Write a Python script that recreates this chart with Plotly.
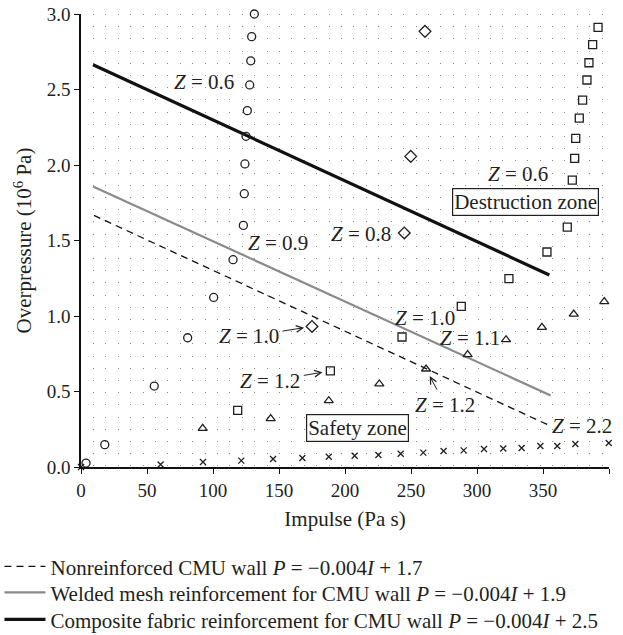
import plotly.graph_objects as go

# ---------------- data ----------------
circle_I = [3.8, 18.0, 55.5, 80.8, 100.5, 115.2, 123.0, 123.7, 124.2, 125.0, 126.0, 127.8, 128.6, 129.3, 131.3]
circle_P = [0.026, 0.148, 0.536, 0.856, 1.123, 1.373, 1.60, 1.81, 2.007, 2.19, 2.36, 2.53, 2.69, 2.85, 3.0]

diamond_I = [175.0, 244.9, 249.8, 260.6]
diamond_P = [0.931, 1.55, 2.057, 2.885]

square_I = [118.7, 188.9, 243.2, 288.1, 324.2, 353.0, 368.4, 372.2, 374.0, 374.8, 377.5, 380.0, 383.3, 384.8, 387.6, 391.7]
square_P = [0.375, 0.636, 0.861, 1.064, 1.247, 1.424, 1.589, 1.90, 2.044, 2.176, 2.311, 2.43, 2.563, 2.677, 2.797, 2.911]

tri_I = [92.2, 143.7, 187.7, 226.0, 261.4, 292.9, 322.0, 349.2, 373.3, 396.4]
tri_P = [0.256, 0.32, 0.439, 0.55, 0.649, 0.744, 0.843, 0.925, 1.013, 1.095]

x_I = [0.0, 60.3, 92.4, 121.4, 145.5, 167.7, 187.7, 207.3, 225.3, 242.2, 259.3, 274.7, 289.9, 305.3, 319.9, 333.8, 348.0, 360.8, 374.5, 399.8]
x_P = [0.0, 0.017, 0.033, 0.042, 0.053, 0.060, 0.068, 0.075, 0.079, 0.088, 0.095, 0.106, 0.110, 0.119, 0.123, 0.126, 0.139, 0.139, 0.152, 0.159]

line_nonreinf_I = [9.8, 354.8]
line_nonreinf_P = [1.666, 0.275]
line_mesh_I = [9.1, 355.8]
line_mesh_P = [1.858, 0.474]
line_comp_I = [9.1, 354.8]
line_comp_P = [2.664, 1.272]

legend_names = [
    "Nonreinforced CMU wall <i>P</i> = −0.004<i>I</i> + 1.7",
    "Welded mesh reinforcement for CMU wall <i>P</i> = −0.004<i>I</i> + 1.9",
    "Composite fabric reinforcement for CMU wall <i>P</i> = −0.004<i>I</i> + 2.5",
]

x_ticks = [0, 50, 100, 150, 200, 250, 300, 350, 400]
y_ticks = [0.0, 0.5, 1.0, 1.5, 2.0, 2.5, 3.0]

# ---------------- figure ----------------
FONT = "Liberation Serif, Times New Roman, serif"
TXT = "#231f20"
MK = "#231f20"
TS = 21  # text size

fig = go.Figure()

fig.add_trace(go.Scatter(x=line_nonreinf_I, y=line_nonreinf_P, mode="lines",
                         line=dict(color="#111", width=1.3, dash="7px,5px"),
                         name=legend_names[0], legend="legend"))
fig.add_trace(go.Scatter(x=line_mesh_I, y=line_mesh_P, mode="lines",
                         line=dict(color="#8a8a8a", width=2.2),
                         name=legend_names[1], legend="legend2"))
fig.add_trace(go.Scatter(x=line_comp_I, y=line_comp_P, mode="lines",
                         line=dict(color="#111", width=3.2),
                         name=legend_names[2], legend="legend3"))

def mk(xs, ys, sym, size):
    fig.add_trace(go.Scatter(x=xs, y=ys, mode="markers", showlegend=False,
                             cliponaxis=False,
                             marker=dict(symbol=sym, size=size, color=MK,
                                         line=dict(color=MK, width=1.3))))

mk(circle_I, circle_P, "circle-open", 8)
mk(diamond_I, diamond_P, "diamond-open", 9)
mk(square_I, square_P, "square-open", 8)
mk(tri_I, tri_P, "triangle-up-open", 8)
mk(x_I, x_P, "x-thin-open", 6)

afont = dict(family=FONT, size=TS, color=TXT)
plain = [
    ("<i>Z</i> = 0.6", 92.8, 2.551),
    ("<i>Z</i> = 0.6", 331.1, 1.942),
    ("<i>Z</i> = 0.9", 149.5, 1.483),
    ("<i>Z</i> = 0.8", 212.1, 1.543),
    ("<i>Z</i> = 1.0", 260.6, 0.987),
    ("<i>Z</i> = 1.1", 294.5, 0.854),
    ("<i>Z</i> = 2.2", 379.5, 0.269),
]
for t, xx, yy in plain:
    fig.add_annotation(x=xx, y=yy, text=t, showarrow=False, font=afont)

for t, xx, yy in [("Destruction zone", 336.7, 1.757), ("Safety zone", 209.8, 0.258)]:
    fig.add_annotation(x=xx, y=yy, text=t, showarrow=False, font=afont,
                       bgcolor="white", bordercolor="#231f20", borderwidth=1.2, borderpad=1)

arrows = [
    ("<i>Z</i> = 1.0", 175.0, 0.931, -63, 10),
    ("<i>Z</i> = 1.2", 188.9, 0.636, -60, 10),
    ("<i>Z</i> = 1.2", 261.4, 0.649, 19, 36),
]
for t, xx, yy, ax, ay in arrows:
    fig.add_annotation(x=xx, y=yy, text=t, showarrow=True, ax=ax, ay=ay,
                       font=afont, arrowhead=5, arrowsize=1.3, arrowwidth=1,
                       arrowcolor="#231f20", standoff=8, startstandoff=2)

axis_common = dict(
    showline=True, linecolor="#111", linewidth=1.5,
    ticks="outside", ticklen=5, tickwidth=1.2, tickcolor="#111",
    tickfont=dict(family=FONT, size=19, color=TXT),
    zeroline=False, automargin=False,
)

fig.update_xaxes(range=[0, 400], tickvals=x_ticks, showgrid=False,
                 title=dict(text="Impulse (Pa s)", font=dict(family=FONT, size=TS, color=TXT), standoff=12),
                 minor=dict(dtick=9.4, tick0=0, showgrid=True, gridcolor="#8c8c8c", gridwidth=1,
                            griddash="1px,11.2px", ticks=""),
                 **axis_common)
fig.update_yaxes(range=[0, 3], tickvals=y_ticks, tickformat=".1f", showgrid=False,
                 title=dict(text="Overpressure (10<sup>6</sup> Pa)", font=dict(family=FONT, size=TS, color=TXT), standoff=9),
                 **axis_common)

leg_common = dict(x=-0.1544, xanchor="left", yanchor="middle",
                  font=dict(family=FONT, size=TS, color=TXT),
                  bgcolor="rgba(0,0,0,0)", itemwidth=41)

fig.update_layout(
    width=623, height=635,
    margin=dict(l=81, r=14, t=14, b=168, autoexpand=False),
    paper_bgcolor="white", plot_bgcolor="white",
    font=dict(family=FONT, size=TS, color=TXT),
    legend=dict(y=-0.2201, **leg_common),
    legend2=dict(y=-0.2775, **leg_common),
    legend3=dict(y=-0.3371, **leg_common),
)

fig.write_html("out.html")
